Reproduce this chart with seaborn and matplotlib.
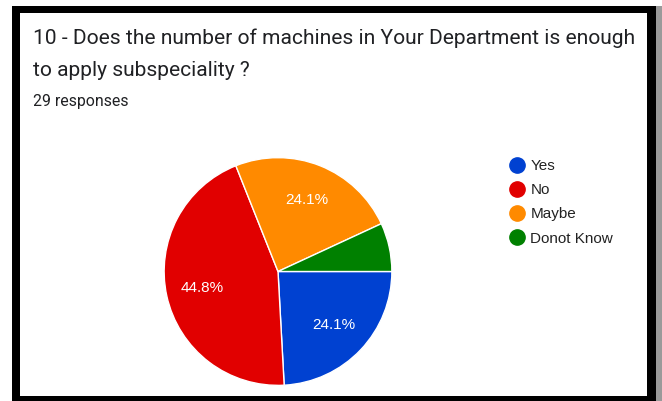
import matplotlib
matplotlib.use("Agg")
import matplotlib.pyplot as plt
from matplotlib.patches import Rectangle
from matplotlib.lines import Line2D
import seaborn as sns

categories = ["Yes", "No", "Maybe", "Donot Know"]
counts = [7, 13, 7, 2]
colors = ["#0041d1", "#e10000", "#ff8a00", "#008000"]
title_lines = ["10 - Does the number of machines in Your Department is enough",
               "to apply subspeciality ?"]
subtitle = "29 responses"

sns.set_theme(style="white")
plt.rcParams["font.family"] = ["Liberation Sans", "DejaVu Sans"]

W, H = 662, 401
fig = plt.figure(figsize=(W / 100, H / 100), dpi=100)
fig.patch.set_facecolor("white")

def fx(x): return x / W
def fy(y): return 1 - y / H

# frame: shadow, black border, white card
fig.patches.append(Rectangle((fx(655), 0), fx(7), 1 - 6 / H, transform=fig.transFigure,
                             facecolor="#9a9a9a", edgecolor="none", zorder=0))
fig.patches.append(Rectangle((fx(12), 0), fx(644), 1 - 6 / H, transform=fig.transFigure,
                             facecolor="black", edgecolor="none", zorder=1))
fig.patches.append(Rectangle((fx(20), fy(396)), fx(627), (396 - 13) / H, transform=fig.transFigure,
                             facecolor="white", edgecolor="none", zorder=2))

fig.text(fx(33), fy(38), title_lines[0], fontsize=15.1, family=["Roboto", "DejaVu Sans"],
         color="#202124", va="center", ha="left", zorder=5)
fig.text(fx(33), fy(70), title_lines[1], fontsize=15.1, family=["Roboto", "DejaVu Sans"],
         color="#202124", va="center", ha="left", zorder=5)
fig.text(fx(33), fy(102), subtitle, fontsize=11.4, family=["Roboto", "DejaVu Sans"],
         color="#202124", va="center", ha="left", zorder=5)

cx, cy, r = 278, 271.5, 115
ax = fig.add_axes([fx(cx - r), fy(cy + r), 2 * r / W, 2 * r / H], zorder=5)

def pct(p):
    return f"{p:.1f}%" if p >= 10 else ""

wedges, texts, autotexts = ax.pie(
    counts, colors=colors, startangle=0, counterclock=False, radius=1,
    autopct=pct, pctdistance=0.68,
    wedgeprops=dict(edgecolor="white", linewidth=1),
    textprops=dict(color="white", fontsize=11))
ax.set_xlim(-1.01, 1.01)
ax.set_ylim(-1.01, 1.01)
ax.set_aspect("equal")
ax.axis("off")

handles = [Line2D([0], [0], marker="o", linestyle="none", markersize=11,
                  markerfacecolor=c, markeredgecolor=c) for c in colors]
leg = fig.legend(handles, categories, loc="upper left",
                 bbox_to_anchor=(fx(509), fy(159)), frameon=False, fontsize=11,
                 handlelength=1.0, handletextpad=0.4, labelspacing=0.67,
                 borderpad=0, borderaxespad=0)
for t in leg.get_texts():
    t.set_color("#222222")
leg.set_zorder(6)

fig.savefig("out.png", dpi=100, facecolor="white")
